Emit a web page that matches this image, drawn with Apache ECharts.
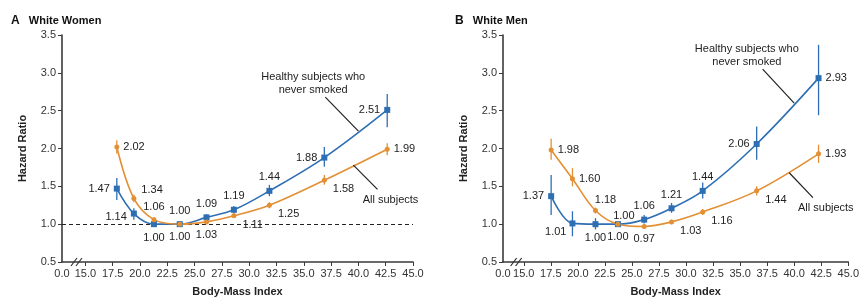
<!DOCTYPE html>
<html>
<head>
<meta charset="utf-8">
<script src="https://cdn.jsdelivr.net/npm/echarts@6/dist/echarts.min.js"></script>
<style>
  html, body { margin: 0; padding: 0; background: #fff; }
  #main { width: 862px; height: 302px; }
</style>
</head>
<body>
<div id="main"></div>
<script>
// Body-mass index (x) of each category, per panel
var womenBmi = [17.88, 19.44, 21.28, 23.64, 26.09, 28.6, 31.85, 36.88, 42.64];
var menBmi   = [17.53, 19.5, 21.63, 23.7, 26.13, 28.66, 31.54, 36.53, 42.25];

// White women
var womenHealthy     = [1.47, 1.14, 1.00, 1.00, 1.09, 1.19, 1.44, 1.88, 2.51];
var womenHealthyLow  = [1.32, 1.06, null, null, 1.05, 1.14, 1.37, 1.76, 2.28];
var womenHealthyHigh = [1.61, 1.21, null, null, 1.13, 1.24, 1.52, 2.02, 2.72];
var womenAll         = [2.02, 1.34, 1.06, 1.00, 1.03, 1.11, 1.25, 1.58, 1.99];
var womenAllLow      = [1.93, 1.29, 1.03, null, 1.01, 1.08, 1.21, 1.52, 1.91];
var womenAllHigh     = [2.11, 1.39, 1.09, null, 1.05, 1.14, 1.29, 1.65, 2.07];

// White men
var menHealthy     = [1.37, 1.01, 1.00, 1.00, 1.06, 1.21, 1.44, 2.06, 2.93];
var menHealthyLow  = [1.12, 0.84, 0.93, null, 1.01, 1.15, 1.34, 1.85, 2.44];
var menHealthyHigh = [1.65, 1.17, 1.08, null, 1.12, 1.28, 1.55, 2.29, 3.37];
var menAll         = [1.98, 1.60, 1.18, 1.00, 0.97, 1.03, 1.16, 1.44, 1.93];
var menAllLow      = [1.85, 1.50, 1.14, null, 0.94, 1.00, 1.12, 1.38, 1.81];
var menAllHigh     = [2.13, 1.74, 1.22, null, 1.00, 1.06, 1.20, 1.50, 2.05];

// axis ticks
var xTicks = [15, 17.5, 20, 22.5, 25, 27.5, 30, 32.5, 35, 37.5, 40, 42.5, 45];
var WOMEN_XMIN = 12.86, MEN_XMIN = 13.08;

// where each value label sits
var womenHealthySide = ['l', 'lb', 'b', 't', 't', 't', 't', 'l', 'l'];
var womenAllSide     = ['r', 'ru', 't', 'b', 'b', 'rb', 'rb', 'rb', 'r'];
var menHealthySide   = ['l', 'lbb', 'b', 'tr', 't', 't', 't', 'l', 'r'];
var menAllSide       = ['r', 'r', 'tr2', 'b', 'b', 'rb', 'rb', 'rb', 'r'];

var BLUE = '#2e6fb3', ORANGE = '#e38f34', FONT = 'Liberation Sans';

function sideLabel(s) {
  var m = {
    l:   { position: 'left', distance: 4, offset: [0, 0] },
    r:   { position: 'right', distance: 4, offset: [0, 0] },
    t:   { position: 'top', distance: 5, offset: [0, 0] },
    b:   { position: 'bottom', distance: 5, offset: [0, 0] },
    lb:  { position: 'left', distance: 4, offset: [0, 3] },
    lbb: { position: 'left', distance: 3, offset: [0, 9] },
    rb:  { position: 'right', distance: 4, offset: [2, 9] },
    ru:  { position: 'right', distance: 4, offset: [1, -8] },
    tr:  { position: 'top', distance: 3, offset: [6, 3] },
    tr2: { position: 'top', distance: 3, offset: [10, 0] }
  };
  return m[s];
}

function points(xs, ys, sides) {
  var out = [];
  for (var i = 0; i < xs.length; i++) {
    out.push({ value: [xs[i], ys[i]], label: sideLabel(sides[i]) });
  }
  return out;
}

function bars(xs, lo, hi) {
  var out = [];
  for (var i = 0; i < xs.length; i++) {
    if (lo[i] != null) out.push([xs[i], lo[i], hi[i]]);
  }
  return out;
}

function errRender(params, api) {
  var p1 = api.coord([api.value(0), api.value(1)]);
  var p2 = api.coord([api.value(0), api.value(2)]);
  return {
    type: 'line',
    shape: { x1: p1[0], y1: p1[1], x2: p2[0], y2: p2[1] },
    style: { stroke: api.visual('color'), lineWidth: 1.3 }
  };
}

function lineSeries(idx, data, color, symbol, size) {
  return {
    type: 'line', xAxisIndex: idx, yAxisIndex: idx,
    data: data, smooth: 0.35,
    symbol: symbol, symbolSize: size,
    lineStyle: { color: color, width: 1.6 },
    itemStyle: { color: color },
    label: {
      show: true, color: '#222', fontFamily: FONT, fontSize: 11,
      formatter: function (p) { return p.value[1].toFixed(2); }
    },
    z: 3
  };
}

function errSeries(idx, data, color) {
  return {
    type: 'custom', xAxisIndex: idx, yAxisIndex: idx,
    data: data, renderItem: errRender,
    itemStyle: { color: color }, z: 2, silent: true
  };
}

function xAxis(idx, min) {
  return {
    type: 'value', gridIndex: idx, min: min, max: 45,
    name: 'Body-Mass Index', nameLocation: 'middle', nameGap: 24,
    nameTextStyle: { fontFamily: FONT, fontSize: 11, fontWeight: 'bold', color: '#222' },
    axisLine: { lineStyle: { color: '#3a3a3a', width: 1.6 } },
    axisTick: { length: 4, customValues: xTicks, lineStyle: { color: '#3a3a3a' } },
    axisLabel: {
      customValues: [min].concat(xTicks), margin: 6,
      fontFamily: FONT, fontSize: 11, color: '#333',
      formatter: function (v) { return v < 15 ? '0.0' : v.toFixed(1); }
    },
    splitLine: { show: false }
  };
}

function yAxis(idx) {
  return {
    type: 'value', gridIndex: idx, min: 0.5, max: 3.5, interval: 0.5,
    name: 'Hazard Ratio', nameLocation: 'middle', nameGap: 34,
    nameTextStyle: { fontFamily: FONT, fontSize: 11, fontWeight: 'bold', color: '#222' },
    axisLine: { show: true, lineStyle: { color: '#3a3a3a', width: 1.6 } },
    axisTick: { show: true, length: 4, lineStyle: { color: '#3a3a3a' } },
    axisLabel: {
      margin: 6, fontFamily: FONT, fontSize: 11, color: '#333',
      formatter: function (v) { return v.toFixed(1); }
    },
    splitLine: { show: false }
  };
}

var chart = echarts.init(document.getElementById('main'));

var womenHealthyLine = lineSeries(0, points(womenBmi, womenHealthy, womenHealthySide), BLUE, 'rect', 6);
womenHealthyLine.markLine = {
  silent: true, symbol: 'none', label: { show: false },
  lineStyle: { color: '#222', type: [4, 3], width: 1.2 },
  data: [{ yAxis: 1 }], z: 1
};

chart.setOption({
  animation: false,
  backgroundColor: '#fff',
  title: [
    { text: '{a|A}   White Women', left: 6, top: 10,
      textStyle: { fontFamily: FONT, fontSize: 11, fontWeight: 'bold', color: '#111',
        rich: { a: { fontFamily: FONT, fontSize: 12, fontWeight: 'bold', color: '#111' } } } },
    { text: '{a|B}   White Men', left: 450, top: 10,
      textStyle: { fontFamily: FONT, fontSize: 11, fontWeight: 'bold', color: '#111',
        rich: { a: { fontFamily: FONT, fontSize: 12, fontWeight: 'bold', color: '#111' } } } }
  ],
  grid: [
    { left: 62, right: 449, top: 35, bottom: 37 },
    { left: 503, right: 9, top: 35, bottom: 37 }
  ],
  xAxis: [xAxis(0, WOMEN_XMIN), xAxis(1, MEN_XMIN)],
  yAxis: [yAxis(0), yAxis(1)],
  series: [
    errSeries(0, bars(womenBmi, womenHealthyLow, womenHealthyHigh), BLUE),
    errSeries(0, bars(womenBmi, womenAllLow, womenAllHigh), ORANGE),
    womenHealthyLine,
    lineSeries(0, points(womenBmi, womenAll, womenAllSide), ORANGE, 'circle', 5),
    errSeries(1, bars(menBmi, menHealthyLow, menHealthyHigh), BLUE),
    errSeries(1, bars(menBmi, menAllLow, menAllHigh), ORANGE),
    lineSeries(1, points(menBmi, menHealthy, menHealthySide), BLUE, 'rect', 6),
    lineSeries(1, points(menBmi, menAll, menAllSide), ORANGE, 'circle', 5)
  ]
});

// annotations (data coordinates), leader lines and axis break marks
var notes = [
  { grid: 0, text: 'Healthy subjects who\nnever smoked', at: [35.86, 2.86], from: [36.97, 2.68], to: [40.0, 2.23] },
  { grid: 0, text: 'All subjects', at: [42.94, 1.32], from: [39.54, 1.78], to: [41.75, 1.46] },
  { grid: 1, text: 'Healthy subjects who\nnever smoked', at: [35.62, 3.23], from: [37.08, 3.05], to: [40.0, 2.6] },
  { grid: 1, text: 'All subjects', at: [42.92, 1.21], from: [39.54, 1.68], to: [41.73, 1.35] }
];

var graphics = [];
notes.forEach(function (n) {
  var q = { xAxisIndex: n.grid, yAxisIndex: n.grid };
  var a = chart.convertToPixel(q, n.at);
  var f = chart.convertToPixel(q, n.from);
  var t = chart.convertToPixel(q, n.to);
  graphics.push({
    type: 'text', x: a[0], y: a[1], z: 10,
    style: { text: n.text, fill: '#222', font: '11px ' + FONT, align: 'center', verticalAlign: 'middle', lineHeight: 13 }
  });
  graphics.push({
    type: 'line', z: 10,
    shape: { x1: f[0], y1: f[1], x2: t[0], y2: t[1] },
    style: { stroke: '#222', lineWidth: 1.2 }
  });
});

[[0, WOMEN_XMIN], [1, MEN_XMIN]].forEach(function (g) {
  var q = { xAxisIndex: g[0], yAxisIndex: g[0] };
  var mid = chart.convertToPixel(q, [(g[1] + 15) / 2 + 0.3, 0.5]);
  [-3, 2].forEach(function (d) {
    graphics.push({
      type: 'line', z: 10,
      shape: { x1: mid[0] + d - 3, y1: mid[1] + 4, x2: mid[0] + d + 3, y2: mid[1] - 4 },
      style: { stroke: '#333', lineWidth: 1.2 }
    });
  });
});

chart.setOption({ graphic: graphics });
</script>
</body>
</html>
